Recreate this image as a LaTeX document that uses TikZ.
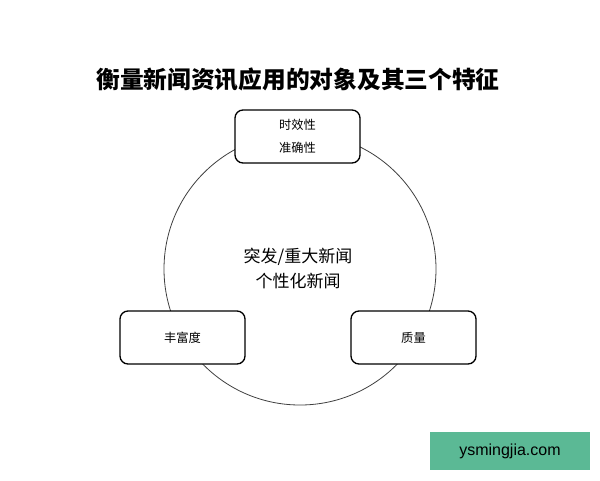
\documentclass[tikz,border=0pt]{standalone}
\usepackage{fontspec}
\setmainfont{Liberation Sans}
\newfontfamily\cjk{Noto Sans CJK SC}
\usetikzlibrary{positioning}
\tikzset{%
  ring/.style = {draw=black!75,line width=0.6pt},
  t/.style = {rectangle,draw,fill=white,line width=1pt,
        rounded corners=6pt,minimum width=93.75pt,
        minimum height=39.75pt,inner sep=0pt,align=center,
        font=\cjk\fontsize{9.2}{17.25}\selectfont},
  mark box/.style = {fill=mintgreen,minimum width=120pt,
        minimum height=28.5pt,inner sep=0pt,
        font=\fontsize{12}{14}\selectfont}
}
\definecolor{mintgreen}{HTML}{5BB995}

\begin{document}
\begin{tikzpicture}[x=0.75pt,y=-0.75pt]
    \useasboundingbox (0,0) rectangle (600,480);
    \node[font=\cjk\bfseries\fontsize{17.8}{20}\selectfont] (title) at (298,80)
        {衡量新闻资讯应用的对象及其三个特征};
    \draw[ring] (300,269) circle[radius=136];
    \node[align=center,font=\cjk\fontsize{12.75}{18.75}\selectfont] (centre) at (298,268)
        {突发/重大新闻\\个性化新闻};
    \node[t] (time) at (297.5,136.5) {时效性\\准确性};
    \node[t] (rich) at (182.5,337.5) {丰富度};
    \node[t] (qual) at (413.5,337.5) {质量};
    \node[mark box] (site) at (510,451) {ysmingjia.com};
\end{tikzpicture}
\end{document}
